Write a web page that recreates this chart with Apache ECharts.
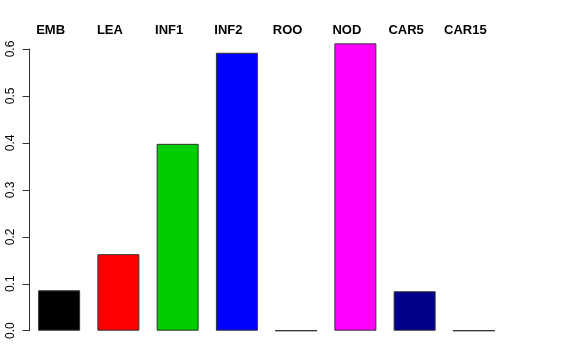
<!DOCTYPE html>
<html><head><meta charset="utf-8">
<script src="https://cdn.jsdelivr.net/npm/echarts@6/dist/echarts.min.js"></script>
<style>html,body{margin:0;padding:0;background:#fff}#c{width:576px;height:360px}</style>
</head><body><div id="c"></div>
<script>
var categories = ['EMB','LEA','INF1','INF2','ROO','NOD','CAR5','CAR15'];
var values = [0.086, 0.163, 0.398, 0.592, 0, 0.612, 0.084, 0];
var barColors = ['#000000','#FF0000','#00CD00','#0000FF','#00FFFF','#FF00FF','#00008B','#555555'];
var yTicks = [0, 0.1, 0.2, 0.3, 0.4, 0.5, 0.6];

var chart = echarts.init(document.getElementById('c'), null, {renderer:'canvas'});
chart.setOption({
  animation: false,
  backgroundColor: '#fff',
  grid: {left: 29.5, right: 72.5, top: 49, bottom: 29.3},
  xAxis: [{
    type: 'category', data: categories, position: 'top',
    axisLine: {show: false}, axisTick: {show: false}, splitLine: {show: false},
    axisLabel: {
      margin: 12, interval: 0,
      fontFamily: 'Liberation Sans, Arial, sans-serif', fontWeight: 'bold', fontSize: 13, color: '#000',
      padding: [0, 17, 0, 0]
    }
  }],
  yAxis: {
    type: 'value', min: yTicks[0], max: yTicks[yTicks.length-1], interval: 0.1,
    axisLine: {show: true, lineStyle: {color: '#333', width: 1}},
    axisTick: {show: true, length: 7, lineStyle: {color: '#333'}},
    splitLine: {show: false},
    axisLabel: {
      rotate: 90, margin: 13,
      fontFamily: 'Liberation Sans, Arial, sans-serif', fontSize: 12, color: '#000',
      formatter: function (v) { return v.toFixed(1); }
    }
  },
  series: [{
    type: 'bar',
    clip: false,
    data: values.map(function (v, i) {
      return {value: v, itemStyle: {color: barColors[i]}};
    }),
    barWidth: 42,
    itemStyle: {borderColor: '#333', borderWidth: 1}
  }]
});
</script></body></html>
